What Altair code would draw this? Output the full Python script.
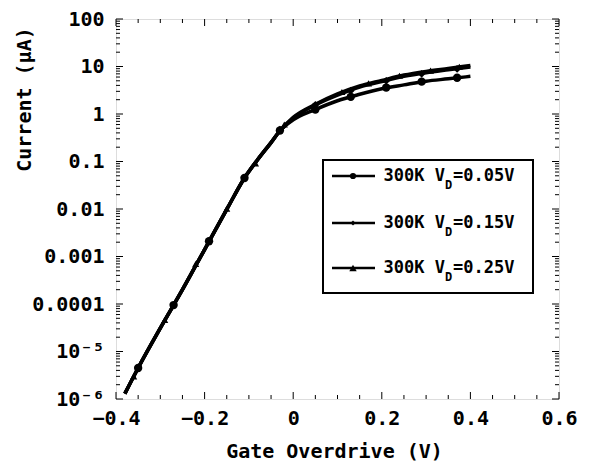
import altair as alt
import pandas as pd

# ---------------- data ----------------
SERIES = ["300K VD=0.05V", "300K VD=0.15V", "300K VD=0.25V"]

# shared sub-threshold part of the curves (all three overlap here)
SUB_X = [-0.38, -0.35, -0.30, -0.25, -0.20, -0.15, -0.11, -0.08, -0.05, -0.03]
SUB_Y = [1.3e-6, 4.5e-6, 3.1e-5, 2.0e-4, 1.4e-3, 0.0098, 0.045, 0.11, 0.25, 0.44]

# above-threshold part of each curve
ON_X = [0.0, 0.05, 0.10, 0.15, 0.20, 0.25, 0.30, 0.35, 0.40]
ON_Y_005 = [0.75, 1.24, 1.9, 2.6, 3.4, 4.1, 4.9, 5.5, 6.2]
ON_Y_015 = [0.82, 1.55, 2.5, 3.7, 4.85, 6.2, 7.4, 8.5, 9.7]
ON_Y_025 = [0.85, 1.6, 2.65, 3.9, 5.1, 6.6, 7.9, 9.1, 10.5]

# marker positions
MK_X_005 = [-0.35, -0.27, -0.19, -0.11, -0.03, 0.05, 0.13, 0.21, 0.29, 0.37]
MK_Y_005 = [4.5e-6, 9.5e-5, 2.1e-3, 0.045, 0.45, 1.24, 2.3, 3.6, 4.8, 5.8]
MK_X_015 = [-0.35, -0.27, -0.19, -0.11, -0.03, 0.05, 0.13, 0.21, 0.29, 0.37]
MK_Y_015 = [4.5e-6, 9.5e-5, 2.1e-3, 0.046, 0.47, 1.55, 3.1, 5.0, 7.0, 8.9]
MK_X_025 = [-0.36, -0.29, -0.22, -0.15, -0.085, -0.02, 0.045, 0.11, 0.17, 0.24, 0.31, 0.375]
MK_Y_025 = [3.0e-6, 4.6e-5, 7.0e-4, 0.0102, 0.091, 0.6, 1.5, 2.9, 4.4, 6.4, 8.2, 9.9]

X_TICKS = [-0.4, -0.2, 0.0, 0.2, 0.4, 0.6]
X_TICK_LABELS = ["\u22120.4", "\u22120.2", "0", "0.2", "0.4", "0.6"]
X_MINOR = [-0.35, -0.3, -0.25, -0.15, -0.1, -0.05, 0.05, 0.1, 0.15,
           0.25, 0.3, 0.35, 0.45, 0.5, 0.55]
Y_TICKS = [1e-6, 1e-5, 1e-4, 1e-3, 1e-2, 1e-1, 1, 10, 100]
Y_TICK_LABELS = ["10\u207b\u2076", "10\u207b\u2075", "0.0001", "0.001", "0.01",
                 "0.1", "1", "10", "100"]
Y_MINOR = [m * d for d in Y_TICKS[:-1] for m in range(2, 10)]

LEGEND_PREFIX = "300K\u00a0V"
LEGEND_SUB = "D"
LEGEND_VALUES = ["=0.05V", "=0.15V", "=0.25V"]
SHAPES = ["circle", "diamond", "triangle-up"]
SIZES = [70, 50, 100]

# ---------------- tables ----------------
rows = []
for s, on_y in zip(SERIES, [ON_Y_005, ON_Y_015, ON_Y_025]):
    for x, y in zip(SUB_X + ON_X, SUB_Y + on_y):
        rows.append({"x": x, "y": y, "series": s})
lines_df = pd.DataFrame(rows)

mrows = []
for s, xs_, ys_ in zip(SERIES, [MK_X_005, MK_X_015, MK_X_025],
                       [MK_Y_005, MK_Y_015, MK_Y_025]):
    for x, y in zip(xs_, ys_):
        mrows.append({"x": x, "y": y, "series": s})
mk_df = pd.DataFrame(mrows)

FONT = "DejaVu Sans Mono"
W, H = 443, 380


def chain_expr(values, labels, margin, mult=False):
    expr = "'" + labels[-1] + "'"
    for v, l in reversed(list(zip(values[:-1], labels[:-1]))):
        thr = v * margin if mult else v + margin
        expr = f"datum.value < {thr} ? '{l}' : ({expr})"
    return expr


xs = alt.Scale(domain=[-0.4, 0.6], nice=False, zero=False)
ys = alt.Scale(type="log", domain=[1e-6, 100], nice=False)

x_lab = alt.Axis(orient="bottom", values=X_TICKS, ticks=False, tickSize=0, domain=False,
                 grid=False, labelExpr=chain_expr(X_TICKS, X_TICK_LABELS, 0.05),
                 labelFont=FONT, labelFontSize=20, labelFontWeight="bold",
                 labelColor="black", labelPadding=9, labelFlush=False, labelOverlap=False,
                 title="Gate Overdrive (V)", titleFont=FONT, titleFontSize=20,
                 titleFontWeight="bold", titleColor="black",
                 titleY=58, titleX=218, titleBaseline="alphabetic")
y_lab = alt.Axis(orient="left", values=Y_TICKS, ticks=False, tickSize=0, domain=False,
                 grid=False, labelExpr=chain_expr(Y_TICKS, Y_TICK_LABELS, 3, mult=True),
                 labelFont=FONT, labelFontSize=20, labelFontWeight="bold",
                 labelColor="black", labelPadding=12, labelFlush=False, labelOverlap=False,
                 title="Current (\u03bcA)", titleFont=FONT, titleFontSize=20,
                 titleFontWeight="bold", titleColor="black", titleAngle=-90,
                 titleX=-86, titleY=80, titleAlign="center", titleBaseline="alphabetic")

shape_scale = alt.Scale(domain=SERIES, range=SHAPES)
size_scale = alt.Scale(domain=SERIES, range=SIZES)

lines = alt.Chart(lines_df).mark_line(interpolate="monotone", color="black",
                                      strokeWidth=3.5).encode(
    x=alt.X("x:Q", scale=xs, axis=x_lab),
    y=alt.Y("y:Q", scale=ys, axis=y_lab),
    detail="series:N",
)

markers = alt.Chart(mk_df).mark_point(filled=True, color="black", opacity=1).encode(
    x=alt.X("x:Q", scale=xs, axis=None),
    y=alt.Y("y:Q", scale=ys, axis=None),
    shape=alt.Shape("series:N", scale=shape_scale, legend=None),
    size=alt.Size("series:N", scale=size_scale, legend=None),
)


# inward ticks on all four sides (positions from the scales)
def xticks(vals, y0, y1):
    return alt.Chart(pd.DataFrame({"v": vals})).mark_rule(color="black", strokeWidth=1).encode(
        x=alt.X("v:Q", scale=xs, axis=None), y=alt.value(y0), y2=alt.value(y1))


def yticks(vals, x0, x1):
    return alt.Chart(pd.DataFrame({"v": vals})).mark_rule(color="black", strokeWidth=1).encode(
        y=alt.Y("v:Q", scale=ys, axis=None), x=alt.value(x0), x2=alt.value(x1))


tick_layers = [
    xticks(X_TICKS, H, H - 7), xticks(X_MINOR, H, H - 4),
    xticks(X_TICKS, 0, 7), xticks(X_MINOR, 0, 4),
    yticks(Y_TICKS, 0, 7), yticks(Y_MINOR, 0, 4),
    yticks(Y_TICKS, W, W - 7), yticks(Y_MINOR, W, W - 4),
]

# ---------------- legend (drawn inside the plot) ----------------
one = pd.DataFrame({"a": [0]})
leg_layers = [
    alt.Chart(one).mark_rect(fill="white", stroke="black", strokeWidth=2).encode(
        x=alt.value(207), x2=alt.value(417), y=alt.value(141), y2=alt.value(274))
]
ROW_Y = [157, 204, 249]
for i, val in enumerate(LEGEND_VALUES):
    ry = ROW_Y[i]
    leg_layers.append(alt.Chart(one).mark_rule(color="black", strokeWidth=2.5).encode(
        x=alt.value(216), x2=alt.value(259), y=alt.value(ry)))
    leg_layers.append(alt.Chart(one).mark_point(shape=SHAPES[i], size=SIZES[i] * 0.55,
                                                filled=True, color="black", opacity=1).encode(
        x=alt.value(237), y=alt.value(ry)))
    txt = dict(font=FONT, fontWeight="bold", color="black", baseline="middle")
    leg_layers.append(alt.Chart(one).mark_text(text=LEGEND_PREFIX, align="right",
                                               fontSize=17, **txt).encode(
        x=alt.value(329), y=alt.value(ry)))
    leg_layers.append(alt.Chart(one).mark_text(text=LEGEND_SUB, align="left",
                                               fontSize=12, **txt).encode(
        x=alt.value(329), y=alt.value(ry + 9)))
    leg_layers.append(alt.Chart(one).mark_text(text=val, align="left",
                                               fontSize=17, **txt).encode(
        x=alt.value(337), y=alt.value(ry)))

chart = alt.layer(lines, markers, *tick_layers, *leg_layers).resolve_axis(
    x="independent", y="independent"
).properties(
    width=W, height=H,
    autosize=alt.AutoSizeParams(type="none"),
    padding={"left": 108, "top": 11, "right": 20, "bottom": 62},
).configure_view(stroke="black", strokeWidth=1.5).configure(background="white")

chart.save("out.html", embed_options={"renderer": "svg", "actions": False})
